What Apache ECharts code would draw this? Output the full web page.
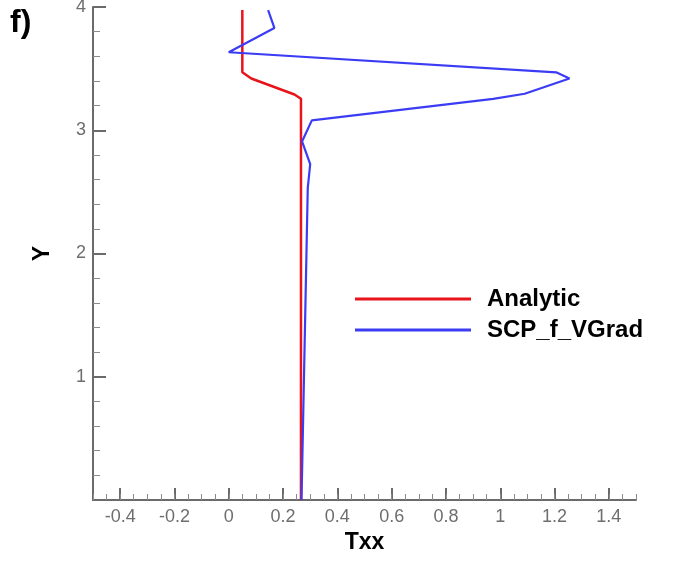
<!DOCTYPE html>
<html>
<head>
<meta charset="utf-8">
<script src="https://cdn.jsdelivr.net/npm/echarts@6/dist/echarts.min.js"></script>
<style>
html,body{margin:0;padding:0;background:#fff;}
#chart{width:675px;height:563px;}
</style>
</head>
<body>
<div id="chart"></div>
<script>
// ---- data ----
const analyticX = [0.05, 0.05, 0.083, 0.242, 0.266, 0.266];
const analyticY = [3.975, 3.47, 3.42, 3.29, 3.255, 0.0];
const scpX = [0.145, 0.168, 0.0, 1.206, 1.255, 1.09, 0.974, 0.306, 0.27, 0.30, 0.291, 0.268];
const scpY = [3.975, 3.83, 3.633, 3.47, 3.42, 3.296, 3.255, 3.08, 2.909, 2.725, 2.53, 0.0];
const xTickLabels = [-0.4, -0.2, 0, 0.2, 0.4, 0.6, 0.8, 1, 1.2, 1.4];
const yTickLabels = [1, 2, 3, 4];
const seriesNames = ['Analytic', 'SCP_f_VGrad'];

const zip = (xs, ys) => xs.map((x, i) => [x, ys[i]]);
const axisGray = '#6b6b6b';
const labelGray = '#6e6e6e';
const fam = '"Liberation Sans", Arial, sans-serif';

const chart = echarts.init(document.getElementById('chart'), null, {renderer: 'canvas'});
chart.setOption({
  animation: false,
  backgroundColor: '#fff',
  grid: {left: 93, top: 7, right: 39, bottom: 63, containLabel: false, outerBoundsMode: 'none'},
  xAxis: [{
    type: 'value', min: -0.5, max: 1.5, position: 'bottom',
    name: 'Txx', nameLocation: 'middle', nameGap: 20,
    nameTextStyle: {fontFamily: fam, fontWeight: 'bold', fontSize: 23, color: '#000'},
    axisLine: {show: true, onZero: false, lineStyle: {color: axisGray, width: 2}},
    axisTick: {show: true, inside: true, length: 12, customValues: xTickLabels, lineStyle: {color: axisGray, width: 2}},
    axisLabel: {show: true, customValues: xTickLabels, margin: 8, color: labelGray, fontFamily: fam, fontSize: 18,
      formatter: v => String(v)},
    splitLine: {show: false}
  }, {
    type: 'value', min: -0.5, max: 1.5, interval: 0.05, position: 'bottom', offset: 0,
    axisLine: {show: false},
    axisTick: {show: true, inside: true, length: 6, lineStyle: {color: '#8a8a8a', width: 1}},
    axisLabel: {show: false},
    splitLine: {show: false}
  }],
  yAxis: {
    type: 'value', min: 0, max: 4, interval: 1,
    name: 'Y', nameLocation: 'middle', nameGap: 39,
    nameTextStyle: {fontFamily: fam, fontWeight: 'bold', fontSize: 23, color: '#000'},
    axisLine: {show: true, onZero: false, lineStyle: {color: axisGray, width: 2}},
    axisTick: {show: true, inside: true, length: 13, lineStyle: {color: axisGray, width: 2}},
    minorTick: {show: true, splitNumber: 5, length: 7, lineStyle: {color: '#8a8a8a', width: 1}},
    axisLabel: {show: true, customValues: yTickLabels, margin: 7, color: labelGray, fontFamily: fam, fontSize: 18},
    splitLine: {show: false}
  },
  legend: {
    show: true, orient: 'vertical', left: 350, top: 282,
    icon: 'rect', itemWidth: 116, itemHeight: 3, itemGap: 7,
    textStyle: {fontFamily: fam, fontWeight: 'bold', fontSize: 24, color: '#000', lineHeight: 22, padding: [0, 0, 0, 11]},
    data: seriesNames
  },
  graphic: [{
    type: 'text', left: 10, top: 7,
    style: {text: 'f)', font: 'bold 32px "Liberation Sans", Arial', fill: '#000'}
  }],
  series: [{
    name: seriesNames[0], type: 'line', xAxisIndex: 0, symbol: 'none',
    data: zip(analyticX, analyticY),
    itemStyle: {color: '#e8141b'},
    lineStyle: {color: '#e8141b', width: 2.5}
  }, {
    name: seriesNames[1], type: 'line', xAxisIndex: 0, symbol: 'none',
    data: zip(scpX, scpY),
    itemStyle: {color: '#3c3cf5'},
    lineStyle: {color: '#3c3cf5', width: 2.2}
  }]
});
</script>
</body>
</html>
